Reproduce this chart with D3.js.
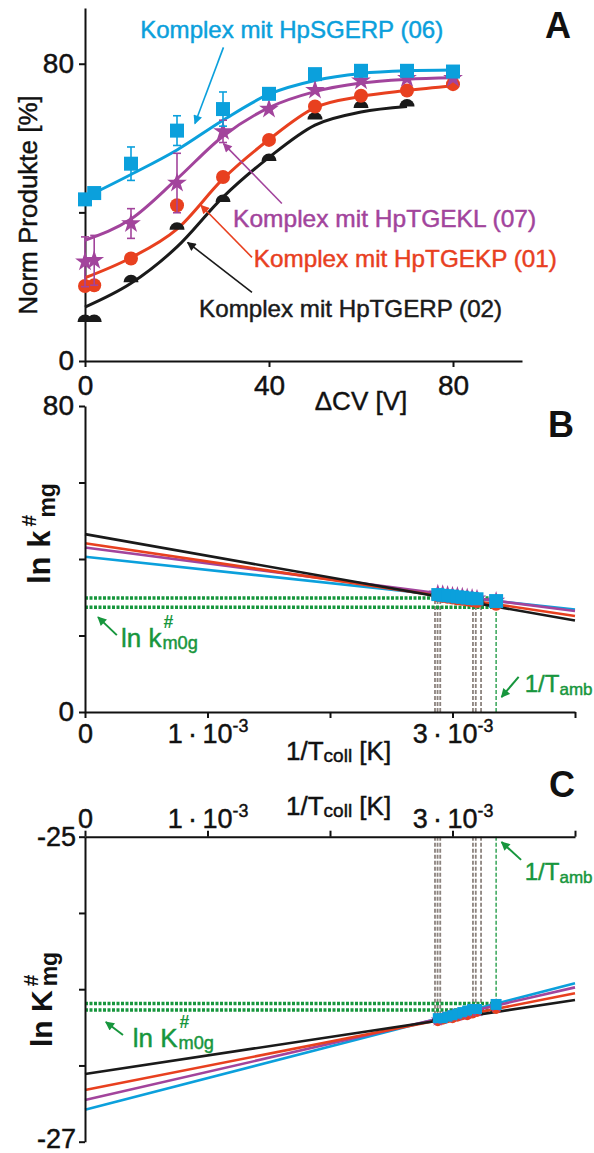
<!DOCTYPE html>
<html><head><meta charset="utf-8">
<script src="https://cdn.jsdelivr.net/npm/d3@7"></script>
<style>body{margin:0;background:#fff}svg{display:block}</style>
</head><body><svg id="c" width="594" height="1153"></svg>
<script>
// ================= DATA =================
// Panel A : Norm Produkte [%] vs ΔCV [V]
const cvBlack   = [0, 2, 10, 20, 30, 40, 50, 60, 70];
const prodBlack = [10.5, 10.5, 21.2, 35.3, 42.8, 53.8, 65, 68.1, 68.5];
const cvAll     = [0, 2, 10, 20, 30, 40, 50, 60, 70, 80];
const prodRed   = [20.2, 20.4, 27.6, 41.9, 49.5, 59.5, 68.5, 71.4, 72.8, 74.5];
const prodPurple= [26.7, 27.1, 37, 47.9, 61.8, 67.8, 72.9, 75.4, 76.1, 76.1];
const errPurple = [6.7, 6.7, 4, 8, 3, 0, 0, 0, 0, 0];
const prodBlue  = [43.5, 45.2, 53.1, 62, 67.8, 71.9, 77.2, 78.1, 78.1, 77.9];
const errBlue   = [0, 0, 4.5, 4, 4.6, 0, 0, 0, 0, 0];
// fitted curves
const fitCvBlack = [0, 10, 20, 30, 40, 50, 60, 70];
const fitBlack   = [14.5, 20.9, 30.7, 44.1, 54.8, 63.5, 67, 68.5];
const fitCv      = [0, 10, 20, 30, 40, 50, 60, 70, 80];
const fitRed     = [22.4, 27.8, 35.5, 49, 59.6, 68.2, 71.2, 72.8, 74.1];
const fitPurple  = [32.5, 38.2, 49, 60.5, 68.2, 72.5, 74.8, 75.8, 76.2];
const fitBlue    = [44, 50.2, 56.8, 64.8, 71.8, 75.5, 77.4, 78.1, 78.3];
const labelsA    = ["Komplex mit HpTGERP (02)", "Komplex mit HpTGEKP (01)", "Komplex mit HpTGEKL (07)", "Komplex mit HpSGERP (06)"];
const ticksA     = [0, 40, 80];

// Panels B and C : x = 1/T
const invTTicks    = [0, 0.001, 0.002, 0.003, 0.004];
const invTTickText = ["0", "1\u2009·\u200910", "", "3\u2009·\u200910", ""];
const invTTickExp  = ["", "-3", "", "-3", ""];
const fitInvT      = [0, 0.004];
const bandInvT     = [0.00288, 0.00292, 0.00296, 0.00300, 0.00304, 0.00308, 0.00312, 0.00316, 0.00320];
const ambInvT      = 0.003356;
const collInvT     = [0.002857, 0.002878, 0.0029, 0.003167, 0.00319, 0.003233];

// Panel B : ln k#mg
const ticksB      = [0, 20, 40, 60, 80];
const lnkFitBlack = [46.5, 23.9];
const lnkFitRed   = [44.1, 25.1];
const lnkFitPurple= [43.0, 26.4];
const lnkFitBlue  = [40.6, 26.8];
const lnkBlack    = [30.2, 30.0, 29.8, 29.5, 29.3, 29.1, 28.9, 28.6, 28.4];
const lnkRed      = [30.4, 30.2, 30.0, 29.8, 29.6, 29.5, 29.3, 29.1, 28.9];
const lnkPurple   = [31.0, 30.9, 30.7, 30.5, 30.4, 30.2, 30.0, 29.9, 29.7];
const lnkBlue     = [30.7, 30.5, 30.4, 30.3, 30.1, 30.0, 29.8, 29.7, 29.6];
const lnkAmb      = [27.5, 28.2, 29.1, 29.0];   // black, red, purple, blue
const lnk0g       = [29.8, 27.4];
const lnkCollTop  = 30.0;

// Panel C : ln K#mg
const ticksC      = [-27, -26.5, -26, -25.5, -25];
const lnKFitBlack = [-26.556, -26.071];
const lnKFitRed   = [-26.661, -26.027];
const lnKFitPurple= [-26.727, -25.988];
const lnKFitBlue  = [-26.79, -25.961];
const lnKBlack    = [-26.21, -26.20, -26.20, -26.19, -26.19, -26.18, -26.18, -26.17, -26.17];
const lnKRed      = [-26.21, -26.20, -26.19, -26.19, -26.18, -26.17, -26.17, -26.16, -26.15];
const lnKPurple   = [-26.20, -26.19, -26.18, -26.17, -26.17, -26.16, -26.15, -26.14, -26.14];
const lnKBlue     = [-26.19, -26.19, -26.18, -26.17, -26.16, -26.15, -26.14, -26.13, -26.13];
const lnKAmb      = [-26.15, -26.13, -26.11, -26.10];
const lnK0g       = [-26.093, -26.137];
const lnKCollBot  = -26.17;

// ================= DRAWING =================
const F = '"Liberation Sans", Arial, Helvetica, sans-serif';
const cBlack = "#1a1a1a", cRed = "#e8401f", cPurple = "#a2449c", cBlue = "#0ba0dc", cGreen = "#17963d", cGray = "#8c837e";
const svg = d3.select("#c").attr("font-family", F);
const defs = svg.append("defs");
function arrowDef(id, col) {
  defs.append("marker").attr("id", id).attr("viewBox", "0 0 10 10").attr("refX", 9).attr("refY", 5)
    .attr("markerUnits", "userSpaceOnUse").attr("markerWidth", 11).attr("markerHeight", 9).attr("orient", "auto")
    .append("path").attr("d", "M0,0L10,5L0,10Z").attr("fill", col);
}
arrowDef("aBlack", cBlack); arrowDef("aRed", cRed); arrowDef("aPurple", cPurple); arrowDef("aBlue", cBlue); arrowDef("aGreen", cGreen);

function styleAxis(g, fs) {
  g.attr("font-size", fs).attr("font-family", F);
  g.select(".domain").attr("stroke", "#111").attr("stroke-width", 2);
  g.selectAll(".tick line").attr("stroke", "#111").attr("stroke-width", 2);
  g.selectAll(".tick text").attr("fill", "#111");
}
function marker(g, shape, x, y, s, col) {
  if (shape === "half") {
    g.append("path").attr("d", `M${x - s / 2},${y}A${s / 2},${s / 2} 0 0,1 ${x + s / 2},${y}Z`).attr("fill", col);
  } else {
    const type = shape === "square" ? d3.symbolSquare : shape === "circle" ? d3.symbolCircle : d3.symbolStar;
    const size = shape === "square" ? s * s : shape === "circle" ? Math.PI * s * s / 4 : s * s * 0.62;
    g.append("path").attr("d", d3.symbol(type, size)()).attr("transform", `translate(${x},${y})`).attr("fill", col);
  }
}
function arrow(g, x1, y1, x2, y2, col, id, w) {
  g.append("line").attr("x1", x1).attr("y1", y1).attr("x2", x2).attr("y2", y2)
    .attr("stroke", col).attr("stroke-width", w || 1.6).attr("marker-end", `url(#${id})`);
}

// ---------- Panel A ----------
const xA = d3.scaleLinear().domain([0, 95]).range([85, 522]);
const yA = d3.scaleLinear().domain([0, 95]).range([361, 8]);
const gA = svg.append("g");
const axA = gA.append("g").attr("transform", "translate(0,361)")
  .call(d3.axisBottom(xA).tickValues(ticksA).tickSize(6).tickSizeOuter(0).tickPadding(8));
styleAxis(axA, 28);
const ayA = gA.append("g").attr("transform", "translate(85,0)")
  .call(d3.axisLeft(yA).tickValues(ticksA).tickSize(6).tickSizeOuter(0).tickPadding(5).tickFormat(d => d === 40 ? "" : d));
styleAxis(ayA, 28);
gA.append("text").attr("x", xA(60)).attr("y", 410).attr("text-anchor", "middle").attr("font-size", 26).attr("fill", "#111").text("ΔCV [V]");
gA.append("text").attr("transform", "translate(37,205) rotate(-90)").attr("text-anchor", "middle").attr("font-size", 26).attr("fill", "#111").text("Norm Produkte [%]");

const lineA = d3.line().x(d => xA(d[0])).y(d => yA(d[1])).curve(d3.curveMonotoneX);
const seriesA = [
  { cv: cvBlack, v: prodBlack, e: null, fx: fitCvBlack, fy: fitBlack, col: cBlack, shape: "half" },
  { cv: cvAll, v: prodRed, e: null, fx: fitCv, fy: fitRed, col: cRed, shape: "circle" },
  { cv: cvAll, v: prodPurple, e: errPurple, fx: fitCv, fy: fitPurple, col: cPurple, shape: "star" },
  { cv: cvAll, v: prodBlue, e: errBlue, fx: fitCv, fy: fitBlue, col: cBlue, shape: "square" }
];
seriesA.forEach(s => {
  gA.append("path").attr("d", lineA(s.fx.map((x, i) => [x, s.fy[i]]))).attr("fill", "none").attr("stroke", s.col).attr("stroke-width", 3);
});
seriesA.forEach(s => {
  s.cv.forEach((x, i) => {
    if (s.e && s.e[i] > 0) {
      const px = xA(x), y1 = yA(s.v[i] - s.e[i]), y2 = yA(s.v[i] + s.e[i]);
      gA.append("line").attr("x1", px).attr("x2", px).attr("y1", y1).attr("y2", y2).attr("stroke", s.col).attr("stroke-width", 1.6);
      [y1, y2].forEach(yy => gA.append("line").attr("x1", px - 4).attr("x2", px + 4).attr("y1", yy).attr("y2", yy).attr("stroke", s.col).attr("stroke-width", 1.6));
    }
    marker(gA, s.shape, xA(x), yA(s.v[i]), s.shape === "half" ? 15 : 14, s.col);
  });
});
// annotations
const annA = [
  { t: labelsA[3], x: 12, y: 87, col: cBlue, id: "aBlue", a: [30.1, 84.4, 23.9, 63.9] },
  { t: labelsA[2], x: 32.2, y: 36, col: cPurple, id: "aPurple", a: [42.8, 42.4, 30.1, 58.5] },
  { t: labelsA[1], x: 36.7, y: 25.2, col: cRed, id: "aRed", a: [36.3, 27.9, 25.2, 41.9] },
  { t: labelsA[0], x: 24.8, y: 11.8, col: cBlack, id: "aBlack", a: [36.3, 18.5, 22.3, 31.9] }
];
annA.forEach(a => {
  gA.append("text").attr("x", xA(a.x)).attr("y", yA(a.y)).attr("font-size", 24).attr("fill", a.col)
    .attr("textLength", 303).attr("lengthAdjust", "spacingAndGlyphs").text(a.t);
  arrow(gA, xA(a.a[0]), yA(a.a[1]), xA(a.a[2]), yA(a.a[3]), a.col, a.id, 1.6);
});
svg.append("text").attr("x", 558).attr("y", 38).attr("text-anchor", "middle").attr("font-size", 36).attr("font-weight", "bold").attr("fill", "#111").text("A");

// ---------- helpers for B and C ----------
function invTAxis(g, axisFn, scale, y, below) {
  const ax = g.append("g").attr("transform", `translate(0,${y})`)
    .call(axisFn(scale).tickValues(invTTicks).tickSize(6).tickSizeOuter(0).tickPadding(below ? 6 : 3).tickFormat(() => ""));
  styleAxis(ax, 27);
  ax.selectAll(".tick text").each(function (d, i) {
    const t = d3.select(this);
    t.append("tspan").text(invTTickText[i]);
    if (invTTickExp[i]) t.append("tspan").attr("dy", "-0.6em").attr("font-size", "0.66em").text(invTTickExp[i]);
  });
  return ax;
}
function collLabel(g, x, y) {
  const t = g.append("text").attr("x", x).attr("y", y).attr("text-anchor", "middle").attr("font-size", 26).attr("fill", "#111");
  t.append("tspan").text("1/T");
  t.append("tspan").attr("font-size", 19).attr("dy", 2).text("coll");
  t.append("tspan").attr("dy", -2).text(" [K]");
}
function ambLabel(g, x, y, ax1, ay1, ax2, ay2) {
  const t = g.append("text").attr("x", x).attr("y", y).attr("font-size", 24).attr("fill", cGreen);
  t.append("tspan").text("1/T");
  t.append("tspan").attr("font-size", 17).attr("dy", 3).text("amb");
  arrow(g, ax1, ay1, ax2, ay2, cGreen, "aGreen", 2);
}
function lnLabel(g, x, y, base, col, fs) {
  const t1 = g.append("text").attr("x", x).attr("y", y).attr("font-size", fs).attr("fill", col).text(base);
  const w = t1.node().getComputedTextLength();
  g.append("text").attr("x", x + w + 2).attr("y", y - fs * 0.72).attr("font-size", fs * 0.68).attr("font-weight", "bold").attr("fill", col).text("#");
  g.append("text").attr("x", x + w + 1).attr("y", y + 2).attr("font-size", fs * 0.7).attr("fill", col).text("m0g");
}
function yLabel(g, sx, sy, base, fs, supOff, subOff) {
  const gg = g.append("g").attr("transform", `translate(${sx},${sy}) rotate(-90)`);
  const t = gg.append("text").attr("x", 0).attr("y", 0).attr("font-size", fs).attr("font-weight", "bold").attr("fill", "#111").text(base);
  const w = t.node().getComputedTextLength();
  gg.append("text").attr("x", w + supOff).attr("y", -14).attr("font-size", 21).attr("font-weight", "bold").attr("fill", "#111").text("#");
  gg.append("text").attr("x", w + subOff).attr("y", 5).attr("font-size", 23).attr("font-weight", "bold").attr("fill", "#111").text("mg");
}
function bcSeries(g, xs, ys, fits, pts, amb, size) {
  const cols = [cBlack, cRed, cPurple, cBlue], shapes = ["half", "circle", "star", "square"];
  const order = [3, 2, 1, 0];
  order.forEach(k => {
    g.append("path").attr("d", d3.line()(fitInvT.map((x, i) => [xs(x), ys(fits[k][i])])))
      .attr("fill", "none").attr("stroke", cols[k]).attr("stroke-width", 2.6);
  });
  [0, 1, 2, 3].forEach(k => {
    bandInvT.forEach((x, i) => marker(g, shapes[k], xs(x), ys(pts[k][i]), shapes[k] === "half" ? size + 2 : size, cols[k]));
    marker(g, shapes[k], xs(ambInvT), ys(amb[k]), k === 3 ? size + 1 : size, cols[k]);
  });
}

// ---------- Panel B ----------
const xB = d3.scaleLinear().domain([0, 0.004]).range([85, 575]);
const yB = d3.scaleLinear().domain([0, 80]).range([712, 406]);
const gB = svg.append("g");
collInvT.forEach(x => gB.append("line").attr("x1", xB(x)).attr("x2", xB(x)).attr("y1", yB(0)).attr("y2", yB(lnkCollTop))
  .attr("stroke", cGray).attr("stroke-width", 1.8).attr("stroke-dasharray", "4,2"));
gB.append("line").attr("x1", xB(ambInvT)).attr("x2", xB(ambInvT)).attr("y1", yB(0)).attr("y2", yB(lnk0g[1]))
  .attr("stroke", cGreen).attr("stroke-width", 1.3).attr("stroke-dasharray", "4,2");
lnk0g.forEach(v => gB.append("line").attr("x1", xB(0)).attr("x2", xB(ambInvT)).attr("y1", yB(v)).attr("y2", yB(v))
  .attr("stroke", cGreen).attr("stroke-width", 3.5).attr("stroke-dasharray", "3,1.5"));
bcSeries(gB, xB, yB, [lnkFitBlack, lnkFitRed, lnkFitPurple, lnkFitBlue], [lnkBlack, lnkRed, lnkPurple, lnkBlue], lnkAmb, 13);
invTAxis(gB, d3.axisBottom, xB, 712, true);
const ayB = gB.append("g").attr("transform", "translate(85,0)")
  .call(d3.axisLeft(yB).tickValues(ticksB).tickSize(6).tickSizeOuter(0).tickPadding(5).tickFormat(d => (d === 0 || d === 80) ? d : ""));
styleAxis(ayB, 28);
collLabel(gB, xB(0.00207), 760);
yLabel(gB, 50, 584, "ln k", 31, 4, 13);
lnLabel(gB, xB(0.000294), yB(17), "ln k", cGreen, 26);
arrow(gB, xB(0.00026), yB(20.1), xB(0.000106), yB(24.8), cGreen, "aGreen", 2);
ambLabel(gB, xB(0.00359), yB(5.2), xB(0.00354), yB(9.2), xB(0.0034), yB(3.9));
svg.append("text").attr("x", 561).attr("y", 437).attr("text-anchor", "middle").attr("font-size", 36).attr("font-weight", "bold").attr("fill", "#111").text("B");

// ---------- Panel C ----------
const xC = d3.scaleLinear().domain([0, 0.004]).range([85, 575]);
const yC = d3.scaleLinear().domain([-27, -25]).range([1141.7, 836.7]);
const gC = svg.append("g");
collInvT.forEach(x => gC.append("line").attr("x1", xC(x)).attr("x2", xC(x)).attr("y1", yC(-25)).attr("y2", yC(lnKCollBot))
  .attr("stroke", cGray).attr("stroke-width", 1.8).attr("stroke-dasharray", "4,2"));
gC.append("line").attr("x1", xC(ambInvT)).attr("x2", xC(ambInvT)).attr("y1", yC(-25)).attr("y2", yC(lnK0g[0]))
  .attr("stroke", cGreen).attr("stroke-width", 1.3).attr("stroke-dasharray", "4,2");
lnK0g.forEach(v => gC.append("line").attr("x1", xC(0)).attr("x2", xC(ambInvT)).attr("y1", yC(v)).attr("y2", yC(v))
  .attr("stroke", cGreen).attr("stroke-width", 3.5).attr("stroke-dasharray", "3,1.5"));
bcSeries(gC, xC, yC, [lnKFitBlack, lnKFitRed, lnKFitPurple, lnKFitBlue], [lnKBlack, lnKRed, lnKPurple, lnKBlue], lnKAmb, 10);
invTAxis(gC, d3.axisTop, xC, 836.7, false);
const ayC = gC.append("g").attr("transform", "translate(85,0)")
  .call(d3.axisLeft(yC).tickValues(ticksC).tickSize(6).tickSizeOuter(0).tickPadding(3).tickFormat(d => (d === -25 || d === -27) ? d : ""));
styleAxis(ayC, 27);
ayC.selectAll(".tick text").filter(d => d === -27).attr("dy", "0.2em");
collLabel(gC, xC(0.00207), 815);
yLabel(gC, 52, 1047, "ln K", 30, 4, 4);
lnLabel(gC, xC(0.00039), yC(-26.379), "ln K", cGreen, 26);
arrow(gC, xC(0.00031), yC(-26.30), xC(0.00017), yC(-26.215), cGreen, "aGreen", 2);
ambLabel(gC, xC(0.00359), yC(-25.283), xC(0.00356), yC(-25.152), xC(0.0034), yC(-25.035));
svg.append("text").attr("x", 562).attr("y", 797).attr("text-anchor", "middle").attr("font-size", 36).attr("font-weight", "bold").attr("fill", "#111").text("C");

// slightly heavier strokes on regular-weight text, as in the reference
svg.selectAll("text").each(function () {
  const t = d3.select(this);
  if (t.attr("font-weight") === "bold") return;
  let f = t.attr("fill");
  if (!f) f = "#111";
  t.attr("stroke", f).attr("stroke-width", 0.45);
});
</script></body></html>
